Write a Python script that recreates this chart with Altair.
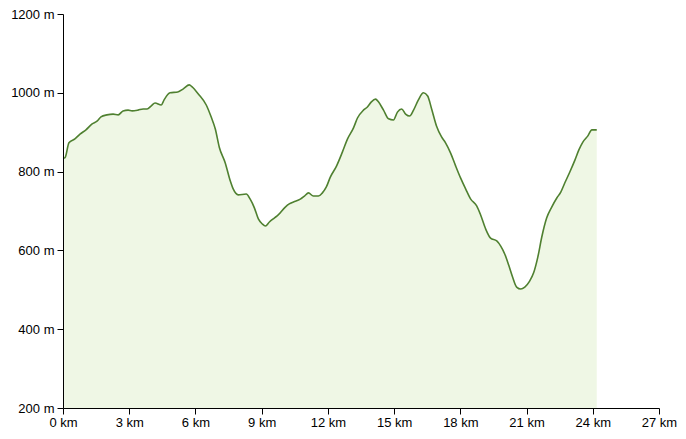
import altair as alt
import pandas as pd

dist_km = [0.05, 0.1, 0.27, 0.54, 0.77, 1.04, 1.32, 1.54, 1.72, 1.99, 2.27, 2.5, 2.72, 2.95, 3.13,
           3.4, 3.63, 3.81, 4.0, 4.17, 4.45, 4.58, 4.85, 5.2, 5.45, 5.72, 5.85, 6.13, 6.49, 6.71,
           6.9, 7.08, 7.35, 7.58, 7.71, 7.94, 8.3, 8.48, 8.67, 8.85, 9.03, 9.17, 9.35, 9.57, 9.75,
           10.07, 10.25, 10.44, 10.75, 10.94, 11.12, 11.34, 11.57, 11.75, 11.93, 12.11, 12.39, 12.66,
           12.89, 13.16, 13.34, 13.61, 13.79, 13.97, 14.16, 14.29, 14.52, 14.75, 14.97, 15.15, 15.34,
           15.52, 15.7, 15.88, 16.1, 16.33, 16.52, 16.7, 16.92, 17.15, 17.33, 17.56, 17.79, 18.01,
           18.24, 18.47, 18.74, 18.92, 19.15, 19.37, 19.65, 19.83, 20.01, 20.19, 20.37, 20.55, 20.74,
           20.92, 21.14, 21.32, 21.51, 21.69, 21.91, 22.14, 22.37, 22.55, 22.73, 22.96, 23.19, 23.37,
           23.55, 23.77, 23.96, 24.18]
elev_m = [834, 836, 873, 883, 895, 906, 921, 928, 939, 944, 946, 944, 954, 956, 954,
          956, 959, 959, 967, 974, 969, 982, 1000, 1002, 1010, 1020, 1015, 997, 969, 939,
          908, 862, 822, 776, 756, 741, 743, 730, 708, 680, 667, 662, 672, 682, 690,
          710, 718, 723, 730, 738, 746, 738, 738, 746, 761, 786, 814, 850,
          883, 911, 936, 956, 964, 977, 984, 977, 956, 934, 931, 951, 959,
          946, 941, 956, 982, 1000, 992, 959, 916, 888, 873, 847, 814, 784,
          756, 730, 713, 690, 654, 631, 624, 611, 591, 563, 532, 507, 502,
          507, 522, 543, 583, 634, 682, 710, 733, 748, 771, 799, 829, 855,
          875, 890, 906, 906]

x_ticks = [0, 3, 6, 9, 12, 15, 18, 21, 24, 27]
y_ticks = [200, 400, 600, 800, 1000, 1200]

df = pd.DataFrame({"km": dist_km, "m": elev_m})

xenc = alt.X("km:Q", scale=alt.Scale(domain=[0, 27], nice=False),
             axis=alt.Axis(values=x_ticks, labelExpr="datum.value + ' km'", title=None,
                           grid=False, domainColor="black", tickColor="black",
                           labelColor="black", labelFontSize=13, labelFont="Liberation Sans",
                           tickSize=6, labelPadding=2, labelFlush=False))
yenc = alt.Y("m:Q", scale=alt.Scale(domain=[200, 1200], nice=False, zero=False),
             axis=alt.Axis(values=y_ticks, labelExpr="datum.value + ' m'", title=None,
                           grid=False, domainColor="black", tickColor="black",
                           labelColor="black", labelFontSize=13, labelFont="Liberation Sans",
                           tickSize=6, labelPadding=3, labelFlush=False))

area = alt.Chart(df).mark_area(color="#eff7e5", interpolate="monotone", opacity=1).encode(
    x=xenc, y=yenc, y2=alt.datum(200))
line = alt.Chart(df).mark_line(color="#4f8030", strokeWidth=1.6, interpolate="monotone").encode(
    x=xenc, y=yenc)

chart = (area + line).properties(
    width=596, height=394, padding={"left": 2, "top": 0, "right": 0, "bottom": 5}
).configure_view(stroke=None)

chart.save("out.html", embed_options={"renderer": "svg", "actions": False})
